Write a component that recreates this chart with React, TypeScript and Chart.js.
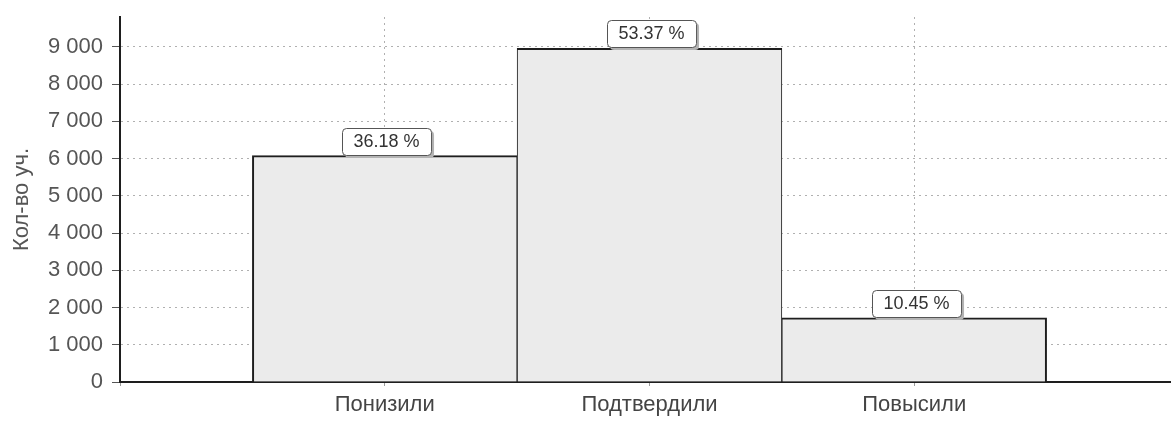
import React, { useEffect, useRef } from "react";
import { Chart, registerables } from "chart.js";

Chart.register(...registerables);

const categories = ["", "Понизили", "Подтвердили", "Повысили", ""];
const counts = [null, 6080, 8960, 1720, null];
const percentLabels = ["", "36.18 %", "53.37 %", "10.45 %", ""];
const yTickValues = [0, 1000, 2000, 3000, 4000, 5000, 6000, 7000, 8000, 9000];
const yMax = 9800;
const yTitle = "Кол-во уч.";

const FONT = "'Liberation Sans', Arial, sans-serif";

const percentPlugin = {
  id: "percentBoxes",
  afterDatasetsDraw(chart: any) {
    const ctx = chart.ctx;
    const meta = chart.getDatasetMeta(0);
    ctx.save();
    ctx.font = `18px ${FONT}`;
    meta.data.forEach((el: any, i: number) => {
      const label = percentLabels[i];
      if (!label || counts[i] == null) return;
      const tw = ctx.measureText(label).width;
      const w = tw + 23;
      const h = 27;
      const cx = el.x + 2;
      const x = Math.round(cx - w / 2);
      const y = Math.round(el.y - h - 1);
      // shadow
      ctx.fillStyle = "#b4b4b4";
      ctx.beginPath();
      ctx.roundRect(x + 3, y + 3, w, h, 4);
      ctx.fill();
      // box
      ctx.fillStyle = "#ffffff";
      ctx.strokeStyle = "#555555";
      ctx.lineWidth = 1;
      ctx.beginPath();
      ctx.roundRect(x + 0.5, y + 0.5, w, h, 4);
      ctx.fill();
      ctx.stroke();
      ctx.fillStyle = "#333333";
      ctx.textAlign = "center";
      ctx.textBaseline = "middle";
      ctx.fillText(label, x + w / 2, y + h / 2 + 1);
    });
    ctx.restore();
  },
};

export default function App() {
  const ref = useRef<HTMLCanvasElement | null>(null);

  useEffect(() => {
    document.body.style.margin = "0";
    const canvas = ref.current;
    if (!canvas) return;
    const chart = new Chart(canvas, {
      type: "bar",
      data: {
        labels: categories,
        datasets: [
          {
            data: counts as any,
            backgroundColor: "#ebebeb",
            borderColor: "#1e1e1e",
            borderWidth: ((c: any) => ({
              top: 2,
              left: c.dataIndex === 1 ? 2 : 1,
              right: c.dataIndex === 3 ? 2 : 1,
              bottom: 0,
            })) as any,
            borderSkipped: "start",
            barPercentage: 1,
            categoryPercentage: 1,
          },
        ],
      },
      options: {
        animation: false,
        responsive: true,
        maintainAspectRatio: false,
        layout: { padding: { top: 17, left: 0, right: 0, bottom: 0 } },
        plugins: {
          legend: { display: false },
          tooltip: { enabled: false },
        },
        scales: {
          x: {
            offset: false,
            grid: {
              offset: false,
              color: (c: any) => (c.index === 0 || c.index === 4 ? "rgba(0,0,0,0)" : "#b0b0b0"),
              lineWidth: 1,
              tickLength: 4,
              tickColor: "#9a9a9a",
              tickBorderDash: [],
            },
            border: { display: true, color: "#1e1e1e", width: 2, dash: [2, 4] },
            ticks: {
              autoSkip: false,
              maxRotation: 0,
              padding: 6,
              color: "#444444",
              font: { family: FONT, size: 22 },
            },
            afterFit: (s: any) => {
              s.height = 39;
              s.paddingLeft = 0;
              s.paddingRight = 0;
            },
          },
          y: {
            min: 0,
            max: yMax,
            afterBuildTicks: (s: any) => {
              s.ticks = yTickValues.map((v) => ({ value: v }));
            },
            grid: {
              color: (c: any) => (c.tick && c.tick.value === 0 ? "rgba(0,0,0,0)" : "#b0b0b0"),
              lineWidth: 1,
              tickLength: 8,
              tickColor: "#555555",
              tickBorderDash: [],
            },
            border: { display: true, color: "#1e1e1e", width: 2, dash: [2, 4] },
            ticks: {
              padding: 9,
              color: "#555555",
              font: { family: FONT, size: 22 },
              callback: (v: any) => {
                const n = Number(v);
                return n.toString().replace(/\B(?=(\d{3})+(?!\d))/g, " ");
              },
            },
            title: {
              display: true,
              text: yTitle,
              color: "#555555",
              font: { family: FONT, size: 22 },
              padding: { top: 9, bottom: 0 },
            },
            afterFit: (s: any) => {
              s.width = 120;
              s.paddingTop = 0;
              s.paddingBottom = 0;
            },
          },
        },
      },
      plugins: [percentPlugin],
    });
    return () => chart.destroy();
  }, []);

  return (
    <div style={{ width: "1171px", height: "421px", position: "relative", background: "#ffffff", overflow: "hidden" }}>
      <div style={{ width: "1179px", height: "421px", position: "relative" }}>
        <canvas ref={ref} />
      </div>
    </div>
  );
}
